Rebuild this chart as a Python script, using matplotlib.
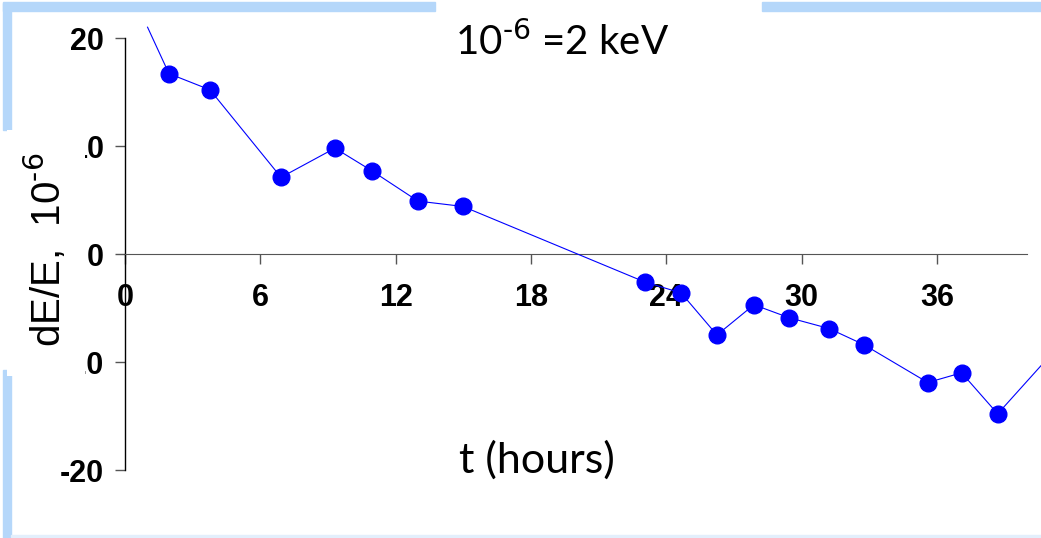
import matplotlib.pyplot as plt
from matplotlib.patches import Rectangle
from matplotlib.transforms import Bbox

# datos
t_hours = [1.95, 3.77, 6.92, 9.31, 10.95, 12.99, 14.99, 23.06, 24.66, 26.25,
           27.89, 29.45, 31.22, 32.77, 35.6, 37.1, 38.7]
dE_E = [16.7, 15.2, 7.1, 9.8, 7.7, 4.9, 4.4, -2.6, -3.6, -7.5,
        -4.7, -5.9, -6.9, -8.4, -11.9, -11.0, -14.8]
# la linea sigue mas alla del primer y ultimo punto
line_t = [1.0] + t_hours + [41.5]
line_y = [21.0] + dE_E + [-8.3]

x_ticks = [0, 6, 12, 18, 24, 30, 36]
y_ticks = [20, 10, 0, -10, -20]

W, H = 1041, 538
plt.rcParams['mathtext.default'] = 'regular'
fig = plt.figure(figsize=(W / 100, H / 100), dpi=100)
ax = fig.add_axes([125 / W, (H - 470) / H, (1027 - 125) / W, (470 - 38) / H])

ax.plot(line_t, line_y, '-', color='#0000ff', lw=0.8, clip_on=False, zorder=3)
ax.plot(t_hours, dE_E, 'o', color='#0000ff', ms=12, clip_on=False, zorder=4)

ax.set_xlim(0, 40)
ax.set_ylim(-20, 20)
ax.spines['top'].set_visible(False)
ax.spines['right'].set_visible(False)
ax.spines['bottom'].set_position(('data', 0))
ax.spines['bottom'].set_color('#555555')
ax.spines['left'].set_linewidth(1.0)

ax.set_xticks(x_ticks)
ax.set_yticks(y_ticks)
ax.set_yticklabels([str(v) for v in y_ticks])
ax.tick_params(axis='x', direction='out', length=7, width=1, color='#555555',
               pad=14, labelsize=22)
ax.tick_params(axis='y', direction='out', length=7, width=1, color='#555555',
               pad=8, labelsize=22)
for lab in ax.get_xticklabels() + ax.get_yticklabels():
    lab.set_fontweight('bold')
    lab.set_family('Liberation Sans')

# la caja de la etiqueta tapa el "1" de 10 y -10
recorte = Bbox([[85, 0], [W, H]])
for lab in ax.get_yticklabels():
    if lab.get_text() in ('10', '-10'):
        lab.set_clip_on(True)
        lab.set_clip_box(recorte)

# caja blanca de la etiqueta del eje y (tapa parte de los numeros)
fig.add_artist(Rectangle((7 / W, (H - 376) / H), 78 / W, 246 / H,
                         transform=fig.transFigure, facecolor='white',
                         edgecolor='none', zorder=5))
fig.text(46 / W, (H - 250) / H, r'dE/E,  10$^{\text{-6}}$', rotation=90,
         ha='center', va='center', fontsize=29, family='Liberation Sans',
         zorder=6)

# marco celeste de la diapositiva
frame_c = '#b5d7fa'
fig.add_artist(Rectangle((3 / W, 0), 8 / W, (H - 370) / H,
                         transform=fig.transFigure, color=frame_c, zorder=0))
fig.add_artist(Rectangle((3 / W, (H - 130) / H), 8 / W, 127 / H,
                         transform=fig.transFigure, color=frame_c, zorder=0))
fig.add_artist(Rectangle((3 / W, (H - 11) / H), (435 - 3) / W, 9 / H,
                         transform=fig.transFigure, color=frame_c, zorder=0))
fig.add_artist(Rectangle((762 / W, (H - 11) / H), (W - 762) / W, 9 / H,
                         transform=fig.transFigure, color=frame_c, zorder=0))
fig.add_artist(Rectangle((11 / W, 1 / H), (W - 11) / W, 2 / H,
                         transform=fig.transFigure, color='#e3effc', zorder=0))

fig.text(562 / W, (H - 42) / H, r'10$^{\text{-6}}$ =2 keV', ha='center',
         va='center', fontsize=29, family='Lato')
fig.text(537 / W, (H - 460) / H, 't (hours)', ha='center', va='center',
         fontsize=31, family='Lato')

plt.savefig('out.png', dpi=100)
